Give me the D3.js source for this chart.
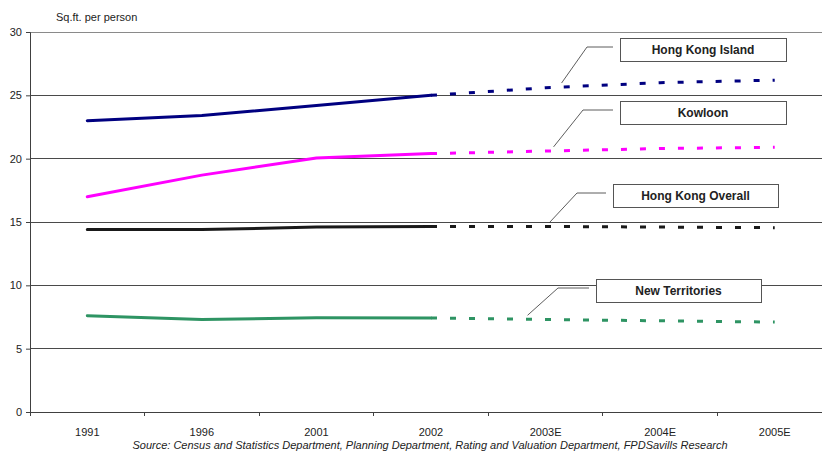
<!DOCTYPE html>
<html>
<head>
<meta charset="utf-8">
<script src="https://cdn.jsdelivr.net/npm/d3@7"></script>
<style>
  html, body { margin: 0; padding: 0; background: #fff; }
  svg { display: block; font-family: "Liberation Sans", Arial, sans-serif; }
</style>
</head>
<body>
<svg id="chart" width="822" height="454"></svg>
<script>
// Floor space per person by district, actual (1991-2002) and forecast (2003E-2005E)
const years = ["1991", "1996", "2001", "2002", "2003E", "2004E", "2005E"];
const lastActual = 3; // index of 2002: solid up to here, dashed afterwards

const hongKongIsland = [23.0, 23.4, 24.2, 25.0, 25.6, 26.0, 26.2];
const kowloon        = [17.0, 18.7, 20.05, 20.4, 20.6, 20.8, 20.9];
const hongKongOverall = [14.4, 14.4, 14.6, 14.65, 14.65, 14.6, 14.55];
const newTerritories = [7.6, 7.3, 7.45, 7.42, 7.3, 7.2, 7.1];

const yTicks = [0, 5, 10, 15, 20, 25, 30];

const series = [
  { name: "Hong Kong Island",  values: hongKongIsland,  color: "#000080" },
  { name: "Kowloon",           values: kowloon,         color: "#ff00ff" },
  { name: "Hong Kong Overall", values: hongKongOverall, color: "#1a1a1a" },
  { name: "New Territories",   values: newTerritories,  color: "#2e9463" }
];

// Callout boxes: anchor point on the forecast line (offset from 2003E), box placement
const callouts = [
  { name: "Hong Kong Island",  dx: 16, boxX: 620, boxY: 38,  boxW: 166, elbowX: 587, elbowY: 47 },
  { name: "Kowloon",           dx: 8,  boxX: 620, boxY: 101, boxW: 166, elbowX: 583, elbowY: 110 },
  { name: "Hong Kong Overall", dx: 4,  boxX: 613, boxY: 184, boxW: 165, elbowX: 577, elbowY: 193 },
  { name: "New Territories",   dx: -18, boxX: 596, boxY: 279, boxW: 165, elbowX: 558, elbowY: 288 }
];

const svg = d3.select("#chart");
const plotLeft = 30, plotTop = 32, plotBottom = 412, plotRight = 832;

const x = d3.scaleBand().domain(years).range([plotLeft, plotRight]).padding(0);
const cx = d => x(d) + x.bandwidth() / 2;
const y = d3.scaleLinear().domain([0, 30]).range([plotBottom, plotTop]);

// Gridlines
svg.append("g")
  .selectAll("line")
  .data(yTicks.filter(t => t > 0))
  .join("line")
  .attr("x1", plotLeft).attr("x2", plotRight)
  .attr("y1", d => y(d)).attr("y2", d => y(d))
  .attr("stroke", d => d === 30 ? "#8a8a8a" : "#4a4a4a")
  .attr("stroke-width", 1)
  .attr("shape-rendering", "crispEdges");

// Y axis
const yAxis = svg.append("g")
  .attr("transform", `translate(${plotLeft},0)`)
  .call(d3.axisLeft(y).tickValues(yTicks).tickSize(4).tickPadding(4));
yAxis.select(".domain").attr("stroke", "#404040");
yAxis.selectAll(".tick line").attr("stroke", "#404040");
yAxis.selectAll("text").attr("font-size", 11).attr("fill", "#222").attr("font-family", "Liberation Sans, Arial, sans-serif");

// X axis with ticks at category boundaries
const xAxisG = svg.append("g").attr("transform", `translate(0,${plotBottom})`);
xAxisG.append("line")
  .attr("x1", plotLeft).attr("x2", plotRight).attr("y1", 0).attr("y2", 0)
  .attr("stroke", "#404040").attr("shape-rendering", "crispEdges");
xAxisG.selectAll("line.tk")
  .data(years)
  .join("line")
  .attr("class", "tk")
  .attr("x1", d => x(d)).attr("x2", d => x(d))
  .attr("y1", 0).attr("y2", 4)
  .attr("stroke", "#404040").attr("shape-rendering", "crispEdges");
xAxisG.selectAll("text")
  .data(years)
  .join("text")
  .attr("x", d => cx(d))
  .attr("y", 24)
  .attr("text-anchor", "middle")
  .attr("font-size", 11)
  .attr("fill", "#222")
  .text(d => d);

// Y axis title
svg.append("text")
  .attr("x", 56).attr("y", 21)
  .attr("font-size", 11)
  .attr("fill", "#222")
  .text("Sq.ft. per person");

// Lines: solid for actual values, dashed for forecasts
const line = d3.line()
  .x(d => cx(d.year))
  .y(d => y(d.value));

series.forEach(s => {
  const pts = years.map((yr, i) => ({ year: yr, value: s.values[i] }));
  svg.append("path")
    .datum(pts.slice(0, lastActual + 1))
    .attr("d", line)
    .attr("fill", "none")
    .attr("stroke", s.color)
    .attr("stroke-width", 3)
    .attr("stroke-linejoin", "round")
    .attr("stroke-linecap", "round");
  svg.append("path")
    .datum(pts.slice(lastActual))
    .attr("d", line)
    .attr("fill", "none")
    .attr("stroke", s.color)
    .attr("stroke-width", 3)
    .attr("stroke-dasharray", "6,13");
});

// Callouts
callouts.forEach(c => {
  const s = series.find(d => d.name === c.name);
  const i0 = years.indexOf("2003E");
  const t = c.dx / x.bandwidth();
  let ay;
  if (t >= 0) {
    ay = y(s.values[i0] + (s.values[i0 + 1] - s.values[i0]) * t);
  } else {
    ay = y(s.values[i0] + (s.values[i0] - s.values[i0 - 1]) * t);
  }
  const ax = cx("2003E") + c.dx;
  const g = svg.append("g");
  g.append("polyline")
    .attr("points", `${ax},${ay - 4} ${c.elbowX},${c.elbowY} ${c.boxX - 7},${c.elbowY}`)
    .attr("fill", "none")
    .attr("stroke", "#333")
    .attr("stroke-width", 0.8);
  g.append("rect")
    .attr("x", c.boxX + 0.5).attr("y", c.boxY + 0.5)
    .attr("width", c.boxW).attr("height", 23)
    .attr("fill", "#fff")
    .attr("stroke", "#555")
    .attr("stroke-width", 1);
  g.append("text")
    .attr("x", c.boxX + c.boxW / 2)
    .attr("y", c.boxY + 16)
    .attr("text-anchor", "middle")
    .attr("font-size", 12)
    .attr("font-weight", "bold")
    .attr("fill", "#222")
    .text(c.name);
});

// Source note
svg.append("text")
  .attr("x", 430).attr("y", 449)
  .attr("text-anchor", "middle")
  .attr("font-size", 11)
  .attr("font-style", "italic")
  .attr("fill", "#222")
  .text("Source: Census and Statistics Department, Planning Department, Rating and Valuation Department, FPDSavills Research");
</script>
</body>
</html>
